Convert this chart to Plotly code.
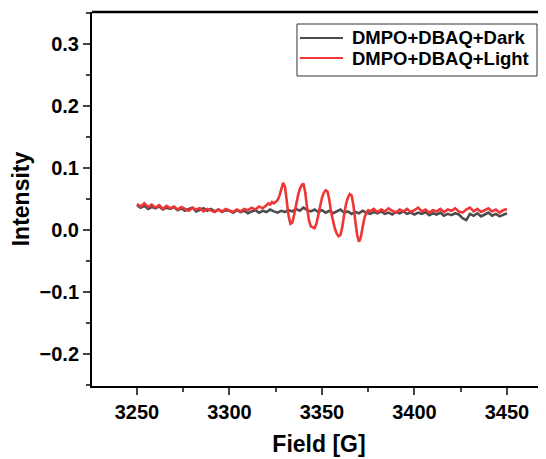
import numpy as np
import plotly.graph_objects as go

# Field sweep (G)
field_dark = np.arange(3250, 3451, 2)
intensity_dark = [
    0.040, 0.036, 0.039, 0.034, 0.037, 0.035, 0.038, 0.033, 0.036, 0.034, 0.037, 0.032, 0.035,
    0.031, 0.034, 0.036, 0.030, 0.033, 0.035, 0.031, 0.034, 0.030, 0.033, 0.029, 0.032,
    0.031, 0.028, 0.032, 0.029, 0.031, 0.027, 0.030, 0.032, 0.028, 0.031, 0.029, 0.033, 0.030,
    0.028, 0.031, 0.029, 0.032, 0.030, 0.034, 0.031, 0.036, 0.032, 0.030, 0.033, 0.029,
    0.032, 0.028, 0.031, 0.027, 0.030, 0.033, 0.028, 0.030, 0.026, 0.029, 0.027, 0.031, 0.028,
    0.026, 0.029, 0.027, 0.030, 0.026, 0.028, 0.025, 0.029, 0.027, 0.030, 0.026, 0.028,
    0.025, 0.028, 0.026, 0.029, 0.024, 0.027, 0.025, 0.028, 0.023, 0.026, 0.024, 0.027, 0.025,
    0.019, 0.016, 0.026, 0.023, 0.027, 0.022, 0.025, 0.028, 0.023, 0.026, 0.022, 0.025, 0.027,
]

field_light = np.concatenate([
    np.arange(3250, 3320, 2),
    np.arange(3320, 3377, 1),
    np.arange(3378, 3451, 2),
])
intensity_light = [
    # 3250-3318
    0.042, 0.038, 0.043, 0.037, 0.041, 0.036, 0.040, 0.034, 0.039, 0.035,
    0.038, 0.033, 0.037, 0.034, 0.031, 0.036, 0.033, 0.035, 0.030, 0.034,
    0.032, 0.029, 0.033, 0.030, 0.034, 0.031, 0.029, 0.033, 0.030, 0.034,
    0.032, 0.036, 0.033, 0.038, 0.035,
    # 3320-3376
    0.040, 0.043, 0.041, 0.045, 0.043, 0.046, 0.048, 0.055, 0.068, 0.076,
    0.070, 0.048, 0.022, 0.010, 0.012, 0.025, 0.042, 0.055, 0.066, 0.072,
    0.075, 0.060, 0.035, 0.015, 0.006, 0.004, 0.003, 0.010, 0.025, 0.040,
    0.052, 0.060, 0.064, 0.062, 0.048, 0.028, 0.012, 0.002, -0.006, -0.010,
    -0.008, 0.005, 0.025, 0.042, 0.052, 0.058, 0.056, 0.040, 0.015, -0.008,
    -0.019, -0.012, 0.005, 0.020, 0.028, 0.032, 0.030,
    # 3378-3450
    0.034, 0.029, 0.033, 0.030, 0.035, 0.031, 0.028, 0.033, 0.030, 0.034,
    0.029, 0.032, 0.036, 0.030, 0.033, 0.028, 0.032, 0.030, 0.034, 0.029,
    0.033, 0.031, 0.035, 0.030, 0.028, 0.033, 0.036, 0.030, 0.034, 0.029,
    0.032, 0.035, 0.030, 0.033, 0.028, 0.032, 0.034,
]

series_names = ["DMPO+DBAQ+Dark", "DMPO+DBAQ+Light"]
series_colors = ["#4d4d4d", "#ee3636"]

x_ticks = [3250, 3300, 3350, 3400, 3450]
y_ticks = [-0.2, -0.1, 0.0, 0.1, 0.2, 0.3]
y_tick_text = ["\u22120.2", "\u22120.1", "0.0", "0.1", "0.2", "0.3"]

FONT = "Liberation Sans, Arial, sans-serif"

fig = go.Figure()
fig.add_trace(go.Scatter(x=field_dark, y=intensity_dark, mode="lines",
                         name=series_names[0], line=dict(color=series_colors[0], width=2.6)))
fig.add_trace(go.Scatter(x=field_light, y=intensity_light, mode="lines",
                         name=series_names[1], line=dict(color=series_colors[1], width=2.6)))

# legend drawn as a framed box with line samples and text
shapes = [
    dict(type="line", xref="paper", yref="paper", x0=0, x1=1, y0=1, y1=1,
         line=dict(color="black", width=2.5)),
    dict(type="rect", xref="paper", yref="paper", x0=0.4515, x1=0.9802, y0=0.8289, y1=0.9679,
         line=dict(color="#333333", width=1), fillcolor="white", layer="above"),
]
annotations = []
rows_y = [0.9305, 0.8770]
for name, color, yy in zip(series_names, series_colors, rows_y):
    shapes.append(dict(type="line", xref="paper", yref="paper", x0=0.4581, x1=0.5529,
                       y0=yy, y1=yy, line=dict(color=color, width=2), layer="above"))
    annotations.append(dict(xref="paper", yref="paper", x=0.5683, y=yy, text=name,
                            showarrow=False, xanchor="left", yanchor="middle",
                            font=dict(family=FONT, size=18.5, color="black", weight="bold")))

fig.update_layout(
    width=538, height=451,
    margin=dict(l=84, r=0, t=4, b=73),
    paper_bgcolor="white", plot_bgcolor="white",
    font=dict(family=FONT, color="black"),
    showlegend=False,
    xaxis=dict(range=[3225.7, 3471.1], tickvals=x_ticks, ticks="outside", ticklen=7,
               tickwidth=2, showline=True, linewidth=2, linecolor="black",
               showgrid=False, zeroline=False,
               tickfont=dict(family=FONT, size=20, weight="bold"),
               minor=dict(dtick=25, ticks="outside", ticklen=4, tickwidth=2, showgrid=False),
               title=dict(text="Field [G]", font=dict(family=FONT, size=23, weight="bold"), standoff=14)),
    yaxis=dict(range=[-0.2516, 0.3516], tickvals=y_ticks, ticktext=y_tick_text,
               ticks="outside", ticklen=7, tickwidth=2, showline=True, linewidth=2,
               linecolor="black", showgrid=False, zeroline=False,
               tickfont=dict(family=FONT, size=20, weight="bold"),
               minor=dict(dtick=0.05, tick0=0, ticks="outside", ticklen=4, tickwidth=2, showgrid=False),
               title=dict(text="Intensity", font=dict(family=FONT, size=23, weight="bold"), standoff=8)),
    shapes=shapes,
    annotations=annotations,
)

fig.write_html("out.html")
